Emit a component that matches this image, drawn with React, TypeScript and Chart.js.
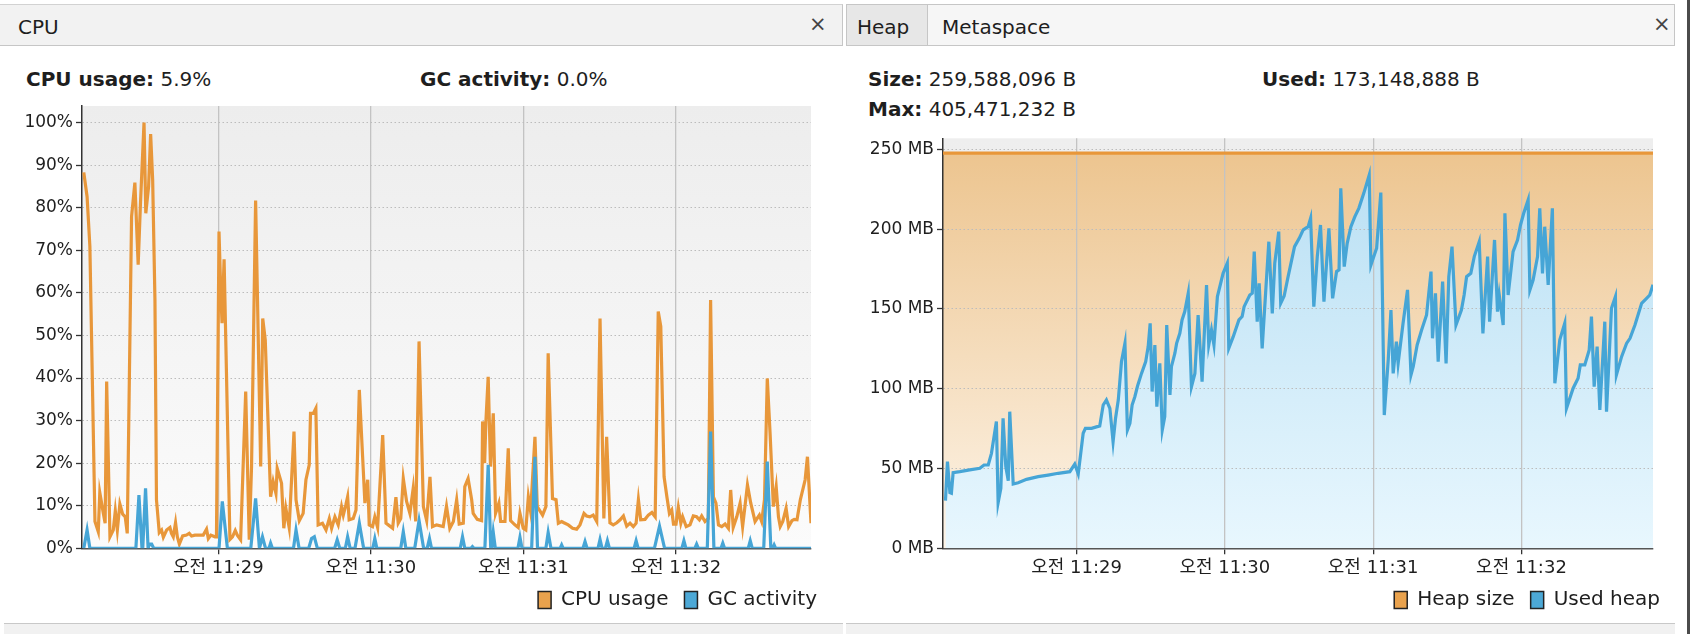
import React, { useEffect, useRef } from 'react';
import { Chart, registerables } from 'chart.js';

// ---- plot-area background plugin (registered first so it paints before fills) ----
const plotBg = {
  id: 'plotBg',
  beforeDraw(chart: any, _args: any, opts: any) {
    if (!opts || !opts.top) return;
    const { ctx, chartArea: a } = chart;
    if (!a) return;
    const g = ctx.createLinearGradient(0, a.top, 0, a.bottom);
    g.addColorStop(0, opts.top);
    g.addColorStop(1, opts.bottom);
    ctx.save();
    ctx.fillStyle = g;
    ctx.fillRect(a.left, a.top, a.right - a.left, a.bottom - a.top);
    ctx.restore();
  },
};
Chart.register(plotBg as any);
Chart.register(...registerables);

// ---------------- DATA (time = seconds after 오전 11:28:00) ----------------
const minuteTicks = [60, 120, 180, 240];
const minuteLabels = ['오전 11:29', '오전 11:30', '오전 11:31', '오전 11:32'];
const cpuTicks = [0, 10, 20, 30, 40, 50, 60, 70, 80, 90, 100];
const heapTicks = [0, 50, 100, 150, 200, 250];

const cpuTime = [
  7.1, 8.4, 9.5, 11.5, 12.8, 13.4, 14.8, 15.5, 16.1, 17.4, 18.7, 19.5, 20.3, 21.3, 22.4, 23.4, 24.2,
  25.9, 27.2, 28.5, 29.4, 30.8, 31.5, 32.6, 33.4, 34.2, 35.1, 35.7, 36.8, 37.7, 38.4, 39.7, 41.0,
  41.6, 42.3, 43.2, 43.9, 44.7, 46.0, 47.5, 48.6, 49.5, 50.8, 54.1, 55.4, 56.1, 57.1, 58.7, 59.3,
  60.3, 61.0, 61.5, 62.3, 64.6, 65.6, 66.7, 67.5, 68.8, 70.8, 72.2, 73.1, 74.7, 76.7, 77.5, 78.5,
  80.6, 81.6, 82.7, 83.2, 84.9, 85.8, 86.6, 87.9, 89.8, 90.6, 91.9, 93.4, 94.5, 95.8, 96.3, 97.4,
  98.4, 99.3, 101.0, 102.4, 103.7, 104.6, 105.9, 107.2, 108.5, 109.2, 110.2, 110.9, 111.5, 113.1,
  114.2, 115.5, 116.8, 117.7, 118.8, 119.4, 120.7, 121.6, 122.7, 124.7, 126.0, 126.9, 128.6, 129.9,
  130.8, 131.8, 132.8, 134.1, 135.4, 136.7, 137.7, 139.0, 140.7, 142.0, 143.3, 144.3, 145.9, 148.5,
  149.8, 151.1, 152.5, 153.8, 154.8, 156.4, 157.0, 158.3, 159.7, 160.3, 161.9, 163.6, 164.0, 164.8,
  165.3, 166.2, 167.1, 168.2, 169.1, 170.4, 171.1, 172.8, 174.1, 175.0, 176.7, 178.0, 178.7, 180.0,
  181.0, 182.0, 182.9, 184.6, 185.5, 187.6, 188.9, 189.8, 191.5, 192.9, 193.8, 195.1, 196.0, 197.7,
  199.4, 201.0, 202.3, 203.9, 204.9, 206.2, 207.5, 208.9, 210.2, 211.7, 212.8, 214.1, 215.4, 216.8,
  218.1, 219.4, 220.7, 222.0, 223.3, 224.4, 225.3, 226.2, 227.9, 229.2, 230.6, 231.9, 233.1, 234.1,
  235.4, 236.5, 237.5, 238.4, 239.1, 240.1, 241.0, 242.0, 242.7, 244.1, 245.6, 246.9, 248.2, 249.3,
  250.2, 251.5, 252.8, 253.7, 254.8, 255.8, 256.8, 258.1, 259.4, 260.7, 261.6, 262.6, 264.0, 265.3,
  266.3, 268.2, 269.5, 271.2, 272.9, 273.8, 274.9, 276.0, 277.1, 278.4, 279.5, 280.4, 281.1, 282.1,
  283.4, 284.4, 285.7, 286.6, 287.7, 289.0, 290.9, 291.8, 293.2,
];
const cpuUsage = [
  88.3, 82.6, 70.9, 6.3, 3.9, 13.1, 8.2, 5.9, 39.2, 2.7, 4.3, 8.8, 4.3, 10.4, 8.0, 7.4, 3.5,
  77.9, 85.9, 66.6, 81.0, 100, 78.7, 85.0, 97.3, 86.5, 58.3, 11.4, 3.7, 4.3, 2.6, 4.3, 4.9,
  3.5, 2.7, 6.0, 2.7, 1.0, 2.9, 3.1, 3.5, 2.9, 3.1, 3.1, 4.5, 2.3, 3.1, 2.7, 2.7,
  74.4, 60.0, 52.9, 67.9, 2.1, 2.7, 4.2, 3.1, 2.0, 36.8, 2.0, 19.2, 81.7, 19.2, 54.0, 48.9,
  12.1, 15.7, 12.9, 18.8, 15.3, 4.7, 9.4, 4.9, 27.4, 11.4, 6.5, 8.2, 16.1, 19.6, 31.7, 31.7,
  32.9, 5.5, 5.9, 4.3, 7.0, 4.7, 7.4, 5.5, 9.8, 7.8, 10.2, 12.1, 6.7, 7.0,
  9.0, 37.2, 21.5, 10.6, 16.1, 5.5, 5.1, 7.4, 4.9, 26.6, 5.9, 5.5, 4.7, 12.0,
  5.9, 7.0, 16.4, 11.0, 8.2, 14.1, 6.3, 48.6, 9.8, 6.5, 16.8, 5.1, 5.5, 5.1,
  9.9, 4.7, 6.3, 11.4, 5.7, 5.9, 14.5, 16.4, 11.4, 8.2, 6.8, 6.5, 29.8, 20.0,
  29.8, 40.3, 19.2, 31.7, 8.2, 10.6, 6.3, 6.3, 23.5, 6.5, 5.5, 4.9, 8.2, 4.7,
  4.3, 12.1, 8.6, 26.2, 9.8, 7.8, 9.8, 45.8, 11.7, 11.4, 5.9, 6.3, 6.0, 5.5,
  4.7, 4.5, 5.5, 8.2, 7.6, 7.4, 7.8, 6.3, 54.0, 7.0, 26.2, 6.0, 5.5, 6.0,
  6.7, 7.6, 5.2, 5.9, 5.1, 5.9, 11.4, 6.7, 6.8, 7.8, 8.4, 7.4, 55.6, 52.1,
  16.8, 12.1, 8.2, 9.0, 5.7, 5.7, 9.6, 5.9, 7.4, 5.1, 5.5, 7.6, 7.4, 6.7,
  7.6, 6.3, 7.0, 58.3, 12.1, 10.6, 5.5, 5.1, 5.7, 4.7, 13.7, 4.9, 7.4, 10.6,
  5.1, 14.9, 10.6, 6.3, 7.8, 6.3, 11.4, 39.9, 27.0, 9.8, 14.5, 7.4, 5.1, 6.3,
  9.4, 5.1, 6.5, 6.8, 6.7, 11.4, 16.1, 21.5, 5.9,
];

const gcTime = [
  7.1, 8.4, 9.5, 27.6, 28.8, 30.0, 30.3, 31.4, 32.4, 33.0, 33.8, 34.6, 60.3, 61.6, 63.6,
  72.8, 74.7, 76.2, 77.4, 78.6, 80.0, 80.6, 81.3, 89.6, 90.6, 91.8, 95.6, 96.7, 97.8, 99.0,
  105.8, 106.8, 107.8, 110.0, 110.9, 111.9, 113.8, 115.5, 117.2, 120.8, 121.6, 122.4,
  131.8, 132.8, 133.8, 137.3, 139.0, 140.8, 142.2, 143.1, 143.9, 155.2, 156.1, 157.0,
  159.4, 160.0, 160.6, 164.9, 166.2, 167.2, 167.6, 168.2, 169.0, 177.9, 178.7, 179.5,
  183.3, 184.6, 185.6, 188.9, 189.8, 190.9, 194.5, 195.1, 195.7, 203.5, 204.3, 205.1,
  209.4, 210.2, 211.0, 212.3, 213.1, 213.9, 223.6, 224.4, 225.2, 231.6, 233.6, 235.6,
  242.4, 243.2, 244.0, 247.5, 248.2, 248.9, 252.4, 253.7, 255.0, 257.8, 258.5, 259.2,
  268.5, 269.3, 270.1, 274.6, 276.0, 277.4, 278.1, 278.7, 279.3, 293.2,
];
const gcActivity = [
  0, 4.3, 0, 0, 12.5, 0, 0, 14.1, 0, 1.0, 1.0, 0, 0, 11.0, 0,
  0, 11.7, 0, 2.7, 0, 0, 1.2, 0, 0, 4.3, 0, 0, 2.3, 2.7, 0,
  0, 2.0, 0, 0, 2.7, 0, 0, 5.9, 0, 0, 2.3, 0,
  0, 3.9, 0, 0, 6.5, 0, 0, 2.3, 0, 0, 2.7, 0,
  0, 0.4, 0, 0, 19.6, 0, 0, 3.7, 0, 0, 2.6, 0,
  0, 21.5, 0, 0, 3.7, 0, 0, 0.8, 0, 0, 1.6, 0,
  0, 2.1, 0, 0, 1.8, 0, 0, 1.8, 0, 0, 5.2, 0,
  0, 1.8, 0, 0, 1.0, 0, 0, 27.4, 0, 0, 1.2, 0,
  0, 1.8, 0, 0, 20.4, 0, 0, 0.8, 0, 0,
];

const heapTime = [
  7.0, 7.8, 8.8, 9.4, 10.1, 12.8, 16.8, 20.9, 22.6, 24.3, 25.6, 27.6, 28.3, 29.4, 30.3, 31.4,
  32.4, 33.0, 34.4, 36.4, 39.8, 44.5, 48.5, 52.6, 57.3, 59.3, 60.7, 62.7, 63.6, 66.1, 69.4,
  70.8, 72.1, 73.5, 74.8, 75.8, 76.9, 78.2, 79.6, 80.6, 81.6, 82.5, 83.6, 84.7, 86.3, 88.0,
  89.0, 89.8, 90.6, 91.7, 92.5, 93.7, 94.7, 95.7, 96.5, 97.8, 98.4, 99.8, 100.5, 101.8, 102.7,
  103.8, 105.2, 106.5, 107.9, 109.2, 110.8, 112.6, 113.5, 114.6, 115.6, 117.0, 119.3, 121.0,
  121.6, 123.4, 125.7, 127.0, 127.8, 130.1, 131.1, 131.9, 133.1, 133.9, 135.1, 136.5, 137.8,
  139.2, 140.2, 141.8, 142.6, 144.0, 145.6, 148.2, 150.1, 151.7, 153.7, 154.7, 156.0, 157.4,
  158.7, 160.1, 162.1, 163.6, 165.2, 166.2, 166.9, 168.3, 169.5, 171.0, 172.6, 174.2, 176.2,
  178.4, 179.1, 181.4, 183.1, 184.5, 186.1, 187.2, 188.1, 189.4, 190.1, 192.1, 193.9, 195.3,
  196.2, 197.8, 199.6, 201.6, 203.4, 204.0, 205.2, 206.3, 208.1, 209.5, 210.6, 211.9, 213.5,
  215.7, 216.8, 217.8, 219.5, 220.9, 222.9, 224.4, 226.3, 227.1, 229.1, 230.3, 231.0, 232.6,
  233.3, 234.6, 236.6, 238.4, 239.6, 240.9, 242.7, 243.4, 244.7, 246.5, 247.4, 248.5, 249.4,
  250.8, 252.5, 253.5, 255.5, 257.5, 258.2, 260.9, 262.9, 263.8, 265.6, 267.4, 268.3, 269.4,
  270.6, 271.7, 273.7, 274.4, 276.4, 278.0, 278.4, 280.5, 282.5, 283.9, 285.9, 288.6, 290.6,
  291.9, 293.2,
];
const usedHeap = [
  29.9, 54.3, 34.9, 34.5, 47.4, 48.0, 49.1, 50.1, 52.2, 52.2, 59.5, 79.4, 28.6, 37.6, 81.5, 51.2,
  42.4, 85.6, 40.3, 41.1, 43.2, 44.9, 45.9, 47.0, 48.0, 52.8, 46.6, 72.1, 75.2, 75.2, 76.7,
  89.8, 92.9, 87.7, 66.8, 81.5, 92.9, 117.0, 128.4, 74.1, 78.3, 89.8, 95.0, 101.7, 109.6, 117.0,
  126.4, 141.0, 98.2, 127.4, 88.8, 115.9, 74.1, 82.5, 139.9, 96.1, 113.8, 122.2, 128.4, 134.7, 143.1,
  148.3, 159.8, 101.3, 109.6, 146.2, 104.4, 165.0, 127.4, 136.8, 127.4, 157.7, 172.3, 178.6,
  125.3, 132.6, 143.1, 145.2, 151.4, 158.7, 159.8, 185.9, 142.0, 166.0, 125.3, 160.0, 192.1,
  147.2, 178.6, 198.4, 153.5, 158.1, 170.2, 189.0, 194.2, 199.5, 201.5, 206.8, 151.4, 182.8,
  202.6, 154.6, 200.5, 156.6, 173.4, 174.4, 225.6, 176.5, 191.1, 201.5, 207.8, 213.0, 222.4,
  233.9, 177.5, 188.0, 222.9, 83.5, 118.0, 149.3, 109.6, 129.5, 115.9, 141.0, 161.9, 108.6,
  113.8, 127.4, 136.8, 146.2, 173.4, 131.6, 159.8, 117.0, 167.1, 115.9, 170.2, 189.0, 139.9,
  149.3, 158.7, 170.2, 172.3, 182.8, 192.1, 134.7, 182.8, 142.0, 193.2, 148.3, 158.7, 139.9,
  209.9, 158.7, 185.9, 193.2, 202.6, 209.9, 218.3, 161.9, 168.1, 182.8, 213.0, 172.3, 201.5,
  165.0, 213.0, 103.4, 130.6, 141.0, 87.7, 100.3, 106.5, 114.9, 114.9, 124.3, 145.2, 101.3,
  126.4, 86.7, 142.0, 85.6, 150.4, 157.7, 108.6, 120.1, 128.4, 131.6, 139.9, 153.5, 156.6,
  158.7, 165.1,
];
const heapSizeTime = [6.0, 293.2];
const heapSize = [247.56, 247.56];

// ---------------- STYLE ----------------
const FONT = "'DejaVu Sans', 'Noto Sans CJK KR', sans-serif";
const ORANGE = '#e8973a';
const BLUE = '#46a5d6';
const TXT = '#1e1e1e';
const LINE_W = 3.2;

const pts = (xs: number[], ys: number[]) => xs.map((x, i) => ({ x, y: ys[i] }));

const vgrad = (top: string, bottom: string) => (c: any) => {
  const chart = c.chart;
  const a = chart.chartArea;
  if (!a) return top;
  const g = chart.ctx.createLinearGradient(0, a.top, 0, a.bottom);
  g.addColorStop(0, top);
  g.addColorStop(1, bottom);
  return g;
};

const legendOpts = {
  position: 'bottom',
  align: 'end',
  labels: {
    font: { family: FONT, size: 20 },
    color: TXT,
    boxWidth: 13,
    boxHeight: 17,
    padding: 16,
    generateLabels: (chart: any) =>
      chart.data.datasets.map((ds: any, i: number) => ({
        text: ds.label,
        fillStyle: ds.legendColor,
        strokeStyle: '#222',
        lineWidth: 1.5,
        hidden: false,
        datasetIndex: i,
        fontColor: TXT,
      })),
  },
};

function xScale(min: number, max: number) {
  return {
    type: 'linear',
    min,
    max,
    afterBuildTicks: (s: any) => {
      s.ticks = minuteTicks.map((v) => ({ value: v }));
    },
    afterFit: (s: any) => {
      s.height = 25.7;
      s.paddingLeft = 0;
      s.paddingRight = 0;
    },
    grid: { color: '#c3c3c3', lineWidth: 1.3, tickLength: 6, tickColor: '#333', tickWidth: 1.3 },
    border: { color: '#555', width: 1.5 },
    ticks: {
      autoSkip: false,
      maxRotation: 0,
      padding: 3,
      color: TXT,
      font: { family: FONT, size: 18 },
      callback: (v: any) => {
        const i = minuteTicks.indexOf(v);
        return i >= 0 ? minuteLabels[i] : '';
      },
    },
  };
}

function yScale(max: number, ticks: number[], width: number, fmt: (v: number) => string) {
  return {
    type: 'linear',
    min: 0,
    max,
    afterBuildTicks: (s: any) => {
      s.ticks = ticks.map((v) => ({ value: v }));
    },
    afterFit: (s: any) => {
      s.width = width;
      s.paddingTop = 0;
      s.paddingBottom = 0;
    },
    grid: {
      color: (c: any) => (c.tick && c.tick.value === 0 ? 'rgba(0,0,0,0)' : '#bcbcbc'),
      lineWidth: 1,
      tickLength: 6,
      tickColor: '#333',
      tickWidth: 1.3,
    },
    border: { color: '#333', width: 1.5, dash: [1.5, 2.5] },
    ticks: { padding: 3, color: TXT, font: { family: FONT, size: 17 }, callback: (v: any) => fmt(v) },
  };
}

function dummyRight(width: number) {
  return {
    type: 'linear',
    position: 'right',
    display: true,
    afterFit: (s: any) => {
      s.width = width;
      s.paddingTop = 0;
      s.paddingBottom = 0;
    },
    grid: { display: false, drawTicks: false },
    border: { display: false },
    ticks: { display: false },
  };
}

function cpuConfig(): any {
  return {
    type: 'line',
    data: {
      datasets: [
        {
          label: 'CPU usage',
          data: pts(cpuTime, cpuUsage),
          borderColor: ORANGE,
          legendColor: '#e9a24d',
          borderWidth: LINE_W,
          pointRadius: 0,
          tension: 0,
          fill: false,
          order: 1,
        },
        {
          label: 'GC activity',
          data: pts(gcTime, gcActivity),
          borderColor: BLUE,
          legendColor: '#4ca8d6',
          borderWidth: LINE_W,
          pointRadius: 0,
          tension: 0,
          fill: false,
          order: 0,
        },
      ],
    },
    options: {
      animation: false,
      responsive: false,
      devicePixelRatio: 1,
      layout: { padding: { top: 6, bottom: 2, left: 0, right: 0 } },
      scales: {
        x: xScale(6.4, 293.2),
        y: yScale(103.9, cpuTicks, 82, (v) => v + '%'),
        yR: dummyRight(22),
      },
      plugins: {
        plotBg: { top: '#ededed', bottom: '#fbfbfb' },
        legend: legendOpts,
        tooltip: { enabled: false },
      },
    },
  };
}

function heapConfig(): any {
  return {
    type: 'line',
    data: {
      datasets: [
        {
          label: 'Heap size',
          data: pts(heapSizeTime, heapSize),
          borderColor: ORANGE,
          legendColor: '#e9a24d',
          backgroundColor: vgrad('#ecc38c', '#fdf4e8'),
          borderWidth: LINE_W,
          pointRadius: 0,
          tension: 0,
          fill: 'origin',
          order: 1,
        },
        {
          label: 'Used heap',
          data: pts(heapTime, usedHeap),
          borderColor: BLUE,
          legendColor: '#4ca8d6',
          backgroundColor: vgrad('#b6def3', '#e8f7fe'),
          borderWidth: LINE_W,
          pointRadius: 0,
          tension: 0,
          fill: 'origin',
          order: 0,
        },
      ],
    },
    options: {
      animation: false,
      responsive: false,
      devicePixelRatio: 1,
      layout: { padding: { top: 8.3, bottom: 2, left: 0, right: 0 } },
      scales: {
        x: xScale(6.0, 293.2),
        y: yScale(256.9, heapTicks, 97, (v) => v + ' MB'),
        yR: dummyRight(23),
      },
      plugins: {
        plotBg: { top: '#eeeeee', bottom: '#f6f6f6' },
        filler: { drawTime: 'beforeDraw' },
        legend: legendOpts,
        tooltip: { enabled: false },
      },
    },
  };
}

const abs = (left: number, top: number, extra: any = {}) => ({ position: 'absolute' as const, left, top, ...extra });

function Label({ x, y, name, value }: { x: number; y: number; name: string; value: string }) {
  return (
    <div style={abs(x, y - 12, { fontSize: 20, lineHeight: '24px', color: TXT, whiteSpace: 'nowrap' })}>
      <b>{name}</b> {value}
    </div>
  );
}

export default function App() {
  const cpuRef = useRef<HTMLCanvasElement>(null);
  const heapRef = useRef<HTMLCanvasElement>(null);

  useEffect(() => {
    const c1 = new Chart(cpuRef.current as HTMLCanvasElement, cpuConfig());
    const c2 = new Chart(heapRef.current as HTMLCanvasElement, heapConfig());
    return () => {
      c1.destroy();
      c2.destroy();
    };
  }, []);

  const closeX = { fontSize: 21, color: '#444', lineHeight: '38px' };
  const tabText = { fontSize: 20, lineHeight: '44px', color: TXT };

  return (
    <div style={abs(0, 0, { width: 1690, height: 634, background: '#fff', overflow: 'hidden', fontFamily: FONT })}>
      {/* left panel header */}
      <div
        style={abs(0, 4, {
          width: 843,
          height: 42,
          boxSizing: 'border-box',
          background: '#f2f2f2',
          borderTop: '1px solid #d2d2d2',
          borderBottom: '1px solid #c6c6c6',
          borderRight: '1px solid #c6c6c6',
        })}
      >
        <div style={abs(18, 0, tabText)}>CPU</div>
        <div style={abs(809, 0, closeX)}>×</div>
      </div>

      {/* right panel tabs */}
      <div
        style={abs(846, 4, {
          width: 81,
          height: 42,
          boxSizing: 'border-box',
          background: '#e7e7e7',
          borderTop: '1px solid #c6c6c6',
          borderLeft: '1px solid #c6c6c6',
          borderBottom: '1px solid #c6c6c6',
        })}
      >
        <div style={abs(10, 0, tabText)}>Heap</div>
      </div>
      <div
        style={abs(927, 4, {
          width: 748,
          height: 42,
          boxSizing: 'border-box',
          background: '#f6f6f6',
          border: '1px solid #c6c6c6',
        })}
      >
        <div style={abs(14, 0, tabText)}>Metaspace</div>
        <div style={abs(725, 0, closeX)}>×</div>
      </div>
      <div style={abs(1687, 0, { width: 3, height: 634, background: '#4b4b4b' })} />

      {/* summary labels */}
      <Label x={26} y={79} name="CPU usage:" value="5.9%" />
      <Label x={420} y={79} name="GC activity:" value="0.0%" />
      <Label x={868} y={79} name="Size:" value="259,588,096 B" />
      <Label x={1262} y={79} name="Used:" value="173,148,888 B" />
      <Label x={868} y={109} name="Max:" value="405,471,232 B" />

      {/* charts */}
      <canvas ref={cpuRef} width={833} height={522} style={abs(0, 100, { width: 833, height: 522 })} />
      <canvas ref={heapRef} width={830} height={492} style={abs(846, 130, { width: 830, height: 492 })} />

      {/* bottom strips (next panels) */}
      <div style={abs(4, 623, { width: 839, height: 11, background: '#f1f1f1', borderTop: '1px solid #c8c8c8' })} />
      <div style={abs(846, 623, { width: 829, height: 11, background: '#f1f1f1', borderTop: '1px solid #c8c8c8' })} />
    </div>
  );
}
